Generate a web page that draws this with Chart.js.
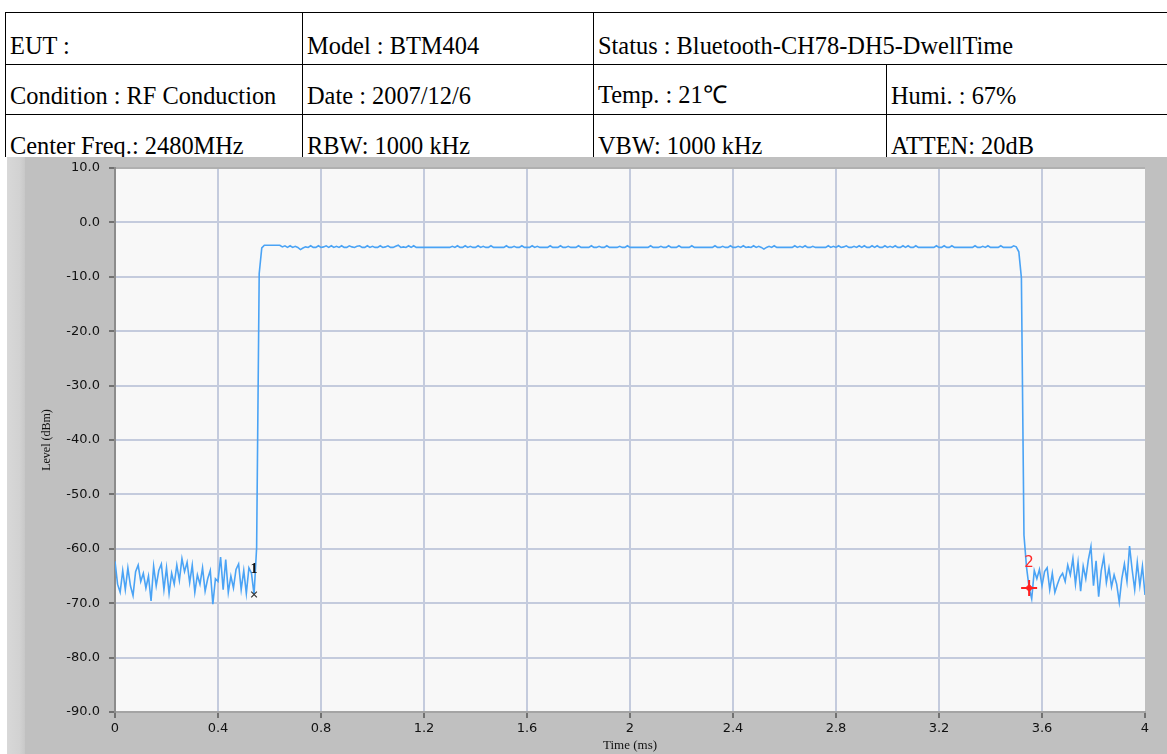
<!DOCTYPE html>
<html>
<head>
<meta charset="utf-8">
<title>Dwell Time</title>
<script src="https://cdn.jsdelivr.net/npm/chart.js@4.4.1/dist/chart.umd.min.js"></script>
<style>
  html, body { margin: 0; padding: 0; background: #ffffff; overflow: hidden; }
  body { width: 1167px; height: 754px; position: relative; }
  #info { position: absolute; left: 5px; top: 12px; width: 1181px; border-collapse: collapse; table-layout: fixed;
          font-family: "Liberation Serif", "Times New Roman", serif; font-size: 24.4px; color: #000; }
  #info td { border: 1.5px solid #000; padding: 0 0 4px 4px; vertical-align: bottom;
             white-space: nowrap; overflow: hidden; box-sizing: border-box; }
  #info tr.r1 td { height: 52px; }
  #info tr.r2 td, #info tr.r3 td { height: 50px; }
  #panel { position: absolute; left: 0; top: 157px; width: 1167px; height: 597px; background: #c0c0c0; }
  #stripe { position: absolute; left: 7px; top: 0; width: 18px; height: 597px;
            background: linear-gradient(to right, #d8d8d8, #d2d2d2 70%, #c8c8c8); }
  #edge { position: absolute; left: 0; top: 0; width: 7px; height: 597px; background: #ffffff; }
  #wrap { position: absolute; left: 0; top: 0; width: 1167px; height: 597px; }
</style>
</head>
<body>
<table id="info">
  <colgroup><col style="width:297px"><col style="width:291px"><col style="width:293px"><col style="width:300px"></colgroup>
  <tr class="r1"><td>EUT :</td><td>Model : BTM404</td><td colspan="2">Status : Bluetooth-CH78-DH5-DwellTime</td></tr>
  <tr class="r2"><td>Condition : RF Conduction</td><td>Date : 2007/12/6</td><td>Temp. : 21℃</td><td>Humi. : 67%</td></tr>
  <tr class="r3"><td>Center Freq.: 2480MHz</td><td>RBW: 1000 kHz</td><td>VBW: 1000 kHz</td><td>ATTEN: 20dB</td></tr>
</table>
<div id="panel">
  <div id="edge"></div>
  <div id="stripe"></div>
  <div id="wrap"><canvas id="dwellChart" width="1167" height="597"></canvas></div>
</div>
<script>
// zero-span sweep: one sample every 10 us from 0 to 4 ms
const SAMPLE_STEP = 0.01;

// noise floor before the burst, 0.00 - 0.54 ms
const leftNoise = [
  -62.3, -66.5, -68.0, -64.0, -67.5, -63.5, -66.8, -68.6, -64.2, -63.0,
  -66.0, -64.5, -67.2, -65.0, -69.6, -63.2, -66.8, -64.0, -62.8, -67.5,
  -63.5, -68.2, -64.5, -66.5, -63.0, -65.8, -61.8, -64.2, -62.5, -66.2,
  -63.0, -68.0, -64.8, -66.5, -63.5, -67.8, -65.5, -64.0, -70.2, -65.5,
  -66.0, -61.5, -67.5, -62.0, -68.0, -65.0, -67.2, -63.8, -62.8, -67.5,
  -64.0, -68.2, -63.5, -64.5, -68.4
];
// rising edge, 0.55 - 0.57 ms
const riseEdge = [-59.8, -9.4, -4.7];
// burst on-time, 0.58 - 3.50 ms
const plateau = [
  -4.2, -4.2, -4.2, -4.2, -4.2, -4.2, -4.2, -4.5, -4.3, -4.6,
  -4.3, -4.6, -4.4, -4.6, -5.0, -4.7, -4.5, -4.6, -4.3, -4.6,
  -4.6, -4.3, -4.6, -4.5, -4.3, -4.6, -4.3, -4.6, -4.4, -4.6,
  -4.3, -4.6, -4.6, -4.3, -4.5, -4.6, -4.4, -4.3, -4.6, -4.6,
  -4.3, -4.6, -4.4, -4.6, -4.6, -4.3, -4.6, -4.5, -4.3, -4.6,
  -4.6, -4.4, -4.2, -4.6, -4.5, -4.6, -4.3, -4.6, -4.3, -4.6,
  -4.6, -4.6, -4.6, -4.6, -4.6, -4.6, -4.6, -4.6, -4.6, -4.6,
  -4.6, -4.6, -4.6, -4.4, -4.6, -4.3, -4.6, -4.6, -4.3, -4.6,
  -4.4, -4.6, -4.6, -4.3, -4.6, -4.4, -4.6, -4.6, -4.3, -4.6,
  -4.6, -4.6, -4.6, -4.6, -4.3, -4.6, -4.6, -4.4, -4.6, -4.6,
  -4.3, -4.6, -4.6, -4.6, -4.3, -4.6, -4.4, -4.6, -4.6, -4.6,
  -4.6, -4.3, -4.6, -4.6, -4.6, -4.3, -4.6, -4.6, -4.4, -4.6,
  -4.6, -4.6, -4.3, -4.6, -4.6, -4.6, -4.6, -4.3, -4.6, -4.6,
  -4.4, -4.6, -4.6, -4.3, -4.6, -4.6, -4.6, -4.6, -4.4, -4.6,
  -4.6, -4.3, -4.6, -4.6, -4.6, -4.6, -4.6, -4.6, -4.6, -4.6,
  -4.3, -4.6, -4.6, -4.6, -4.4, -4.6, -4.6, -4.3, -4.6, -4.6,
  -4.6, -4.3, -4.6, -4.6, -4.6, -4.6, -4.3, -4.6, -4.6, -4.6,
  -4.6, -4.6, -4.6, -4.6, -4.6, -4.3, -4.6, -4.6, -4.4, -4.6,
  -4.6, -4.3, -4.6, -4.6, -4.4, -4.6, -4.3, -4.6, -4.5, -4.6,
  -4.3, -4.6, -4.4, -4.6, -4.9, -4.6, -4.4, -4.6, -4.3, -4.6,
  -4.6, -4.6, -4.6, -4.6, -4.6, -4.6, -4.3, -4.6, -4.4, -4.6,
  -4.3, -4.6, -4.6, -4.4, -4.6, -4.6, -4.6, -4.6, -4.6, -4.3,
  -4.6, -4.4, -4.6, -4.3, -4.6, -4.5, -4.3, -4.6, -4.6, -4.4,
  -4.6, -4.3, -4.6, -4.3, -4.6, -4.6, -4.3, -4.6, -4.3, -4.6,
  -4.6, -4.3, -4.6, -4.4, -4.6, -4.3, -4.6, -4.6, -4.3, -4.6,
  -4.3, -4.6, -4.6, -4.3, -4.6, -4.6, -4.6, -4.6, -4.6, -4.6,
  -4.6, -4.3, -4.6, -4.6, -4.3, -4.6, -4.6, -4.3, -4.6, -4.6,
  -4.6, -4.6, -4.6, -4.6, -4.6, -4.6, -4.3, -4.6, -4.6, -4.4,
  -4.6, -4.3, -4.6, -4.6, -4.6, -4.6, -4.3, -4.6, -4.6, -4.6,
  -4.6, -4.3, -4.5
];
// falling edge, 3.51 - 3.55 ms
const fallEdge = [-5.4, -10.2, -57.5, -63.4, -67.2];
// noise floor after the burst, 3.56 - 4.00 ms
const rightNoise = [
  -69.2, -64.0, -65.5, -63.8, -66.8, -64.2, -63.5, -67.5, -64.5, -68.0,
  -66.5, -65.2, -64.5, -66.0, -63.0, -64.8, -61.8, -66.5, -62.5, -67.8,
  -63.2, -65.5, -62.0, -59.6, -66.8, -62.2, -68.8, -64.0, -61.5, -66.2,
  -63.5, -67.0, -64.8, -66.5, -69.8, -65.5, -62.8, -66.0, -59.5, -63.8,
  -67.5, -62.5, -66.8, -63.2, -68.5
];

// marker 1 / marker 2 readings (time ms, level dBm)
const markerNames = ['1', '2'];
const markerTimes = [0.54, 3.55];
const markerLevels = [-68.4, -67.2];

const timeTicks = [0, 0.4, 0.8, 1.2, 1.6, 2, 2.4, 2.8, 3.2, 3.6, 4];
const levelTicks = [10, 0, -10, -20, -30, -40, -50, -60, -70, -80, -90];

const levels = leftNoise.concat(riseEdge, plateau, fallEdge, rightNoise);
const trace = levels.map((v, i) => ({ x: Math.round(i * SAMPLE_STEP * 100) / 100, y: v }));

const gridColor = '#c4cbdd';
const tickFont = { family: 'DejaVu Sans', size: 13 };

// light plot background inside the axes
const plotBackground = {
  id: 'plotBackground',
  beforeDraw(chart) {
    const { ctx, chartArea: a } = chart;
    ctx.save();
    ctx.fillStyle = '#f8f8f8';
    ctx.fillRect(a.left, a.top, a.right - a.left, a.bottom - a.top);
    ctx.restore();
  }
};

// marker numbers drawn above each marker point
const markerLabels = {
  id: 'markerLabels',
  afterDatasetsDraw(chart) {
    const { ctx, scales } = chart;
    const colors = ['#111111', '#ff2a2a'];
    ctx.save();
    ctx.textAlign = 'center';
    ctx.textBaseline = 'middle';
    for (let i = 0; i < markerNames.length; i++) {
      const px = scales.x.getPixelForValue(markerTimes[i]);
      const py = scales.y.getPixelForValue(markerLevels[i]);
      ctx.font = i === 0 ? 'bold 14px "Liberation Serif"' : '15px "DejaVu Sans"';
      ctx.fillStyle = colors[i];
      ctx.fillText(markerNames[i], px, py - 25);
    }
    ctx.restore();
  }
};

const ctx = document.getElementById('dwellChart').getContext('2d');
new Chart(ctx, {
  type: 'line',
  data: {
    datasets: [
      {
        label: 'Level',
        data: trace,
        borderColor: '#4aa3f5',
        borderWidth: 1.6,
        pointRadius: 0,
        tension: 0,
        order: 2
      },
      {
        label: 'Marker 1',
        data: [{ x: markerTimes[0], y: markerLevels[0] }],
        showLine: false,
        pointStyle: 'crossRot',
        pointRadius: 4,
        borderColor: '#333333',
        borderWidth: 1.2,
        order: 1
      },
      {
        label: 'Marker 2',
        data: [{ x: markerTimes[1], y: markerLevels[1] }],
        showLine: false,
        pointStyle: 'cross',
        pointRadius: 8,
        borderColor: '#ff2020',
        borderWidth: 2,
        order: 1
      },
      {
        label: 'Marker 2 dot',
        data: [{ x: markerTimes[1], y: markerLevels[1] }],
        showLine: false,
        pointStyle: 'rectRot',
        pointRadius: 3.5,
        backgroundColor: '#ff2020',
        borderColor: '#ff2020',
        borderWidth: 1,
        order: 1
      }
    ]
  },
  options: {
    responsive: false,
    animation: false,
    layout: { padding: { left: 0, top: 11, right: 22, bottom: 0 } },
    plugins: { legend: { display: false }, tooltip: { enabled: false } },
    scales: {
      x: {
        type: 'linear',
        min: 0,
        max: 4,
        afterBuildTicks: s => { s.ticks = timeTicks.map(v => ({ value: v })); },
        afterFit: s => { s.height = 42; s.paddingLeft = 0; s.paddingRight = 0; },
        ticks: {
          color: '#111',
          font: { family: 'DejaVu Sans', size: 13 },
          padding: 3,
          maxRotation: 0,
          autoSkip: false,
          callback: v => String(Math.round(v * 10) / 10)
        },
        grid: {
          color: c => (c.tick && c.tick.value === 4 ? 'rgba(0,0,0,0)' : gridColor),
          lineWidth: 2,
          tickLength: 6,
          tickColor: '#222',
          tickWidth: 1
        },
        border: { display: true, color: '#a4a4a4', width: 2 },
        title: {
          display: true,
          text: 'Time (ms)',
          color: '#111',
          font: { family: 'Liberation Serif', size: 13 },
          padding: { top: 0, bottom: 1 }
        }
      },
      y: {
        min: -90,
        max: 10,
        afterBuildTicks: s => { s.ticks = levelTicks.map(v => ({ value: v })); },
        afterFit: s => { s.width = 115; s.paddingTop = 0; s.paddingBottom = 0; },
        ticks: {
          color: '#111',
          font: tickFont,
          padding: 9,
          autoSkip: false,
          callback: v => v.toFixed(1)
        },
        grid: {
          color: c => (c.tick && c.tick.value === 10 ? '#b0b0b0' : gridColor),
          lineWidth: 2,
          tickLength: 6,
          tickColor: '#222',
          tickWidth: 1
        },
        border: { display: true, color: '#8c8c8c', width: 2 },
        title: {
          display: true,
          text: 'Level (dBm)',
          color: '#111',
          font: { family: 'Liberation Serif', size: 12 },
          padding: { top: 40, bottom: 0 }
        }
      }
    }
  },
  plugins: [plotBackground, markerLabels]
});
</script>
</body>
</html>
